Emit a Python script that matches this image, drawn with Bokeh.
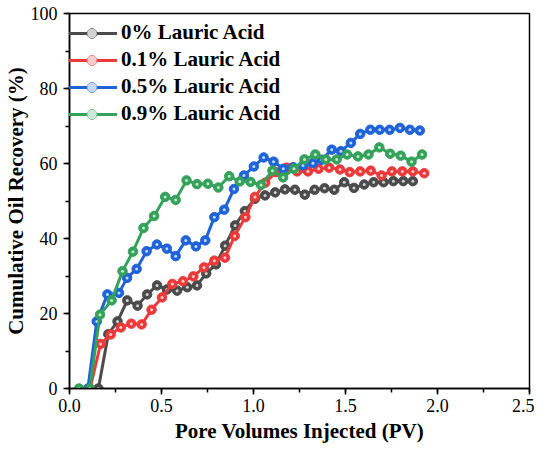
from bokeh.plotting import figure
from bokeh.models import Range1d, SingleIntervalTicker, PrintfTickFormatter, Legend, LegendItem
from bokeh.embed import file_html
from bokeh.resources import INLINE

labels = ["0% Lauric Acid", "0.1% Lauric Acid", "0.5% Lauric Acid", "0.9% Lauric Acid"]
colors = ["#4b4b4b", "#ec3a3b", "#1f63d8", "#34a25a"]

x_0 = [0.157, 0.211, 0.261, 0.314, 0.37, 0.422, 0.476, 0.529, 0.585, 0.64, 0.693, 0.743, 0.796,
       0.846, 0.9, 0.953, 1.008, 1.063, 1.118, 1.171, 1.225, 1.279, 1.332, 1.386, 1.439, 1.493,
       1.546, 1.602, 1.653, 1.707, 1.76, 1.814, 1.866]
y_0 = [0, 14.5, 17.9, 23.5, 22.1, 25.1, 27.5, 26.4, 26.1, 27.0, 27.5, 30.7, 33.1, 38.1, 43.5,
       47.3, 50.6, 51.5, 52.3, 53.1, 53.0, 51.7, 53.0, 53.4, 53.0, 55.0, 53.5, 54.4, 55.0, 55.0,
       55.3, 55.3, 55.3]

x_01 = [0.112, 0.169, 0.224, 0.279, 0.336, 0.392, 0.446, 0.503, 0.559, 0.617, 0.673, 0.731,
        0.787, 0.845, 0.898, 0.956, 1.008, 1.064, 1.122, 1.18, 1.237, 1.296, 1.354, 1.411, 1.47,
        1.523, 1.58, 1.637, 1.696, 1.752, 1.809, 1.866, 1.928]
y_01 = [0, 11.9, 14.4, 16.3, 17.3, 17.1, 21.0, 24.3, 27.9, 28.6, 29.9, 32.3, 34.1, 34.9, 40.7,
        45.7, 51.1, 54.9, 57.7, 58.9, 57.9, 57.9, 58.6, 58.9, 58.4, 57.7, 57.9, 58.1, 56.8, 57.9,
        57.9, 57.9, 57.4]

x_05 = [0.1, 0.148, 0.206, 0.269, 0.313, 0.365, 0.419, 0.475, 0.529, 0.577, 0.632, 0.687, 0.738,
        0.787, 0.841, 0.894, 0.948, 1.002, 1.055, 1.109, 1.162, 1.216, 1.269, 1.323, 1.371, 1.425,
        1.475, 1.529, 1.58, 1.635, 1.686, 1.74, 1.796, 1.85, 1.904]
y_05 = [0, 17.9, 25.1, 25.5, 29.5, 31.9, 36.6, 38.4, 37.3, 35.3, 39.5, 37.9, 39.5, 45.7, 47.7,
        53.2, 56.8, 59.2, 61.6, 60.5, 58.6, 59.0, 59.5, 60.1, 61.0, 63.7, 63.3, 65.5, 67.9, 69.0,
        69.0, 69.0, 69.5, 69.0, 68.8]

x_09 = [0.052, 0.11, 0.166, 0.229, 0.288, 0.345, 0.402, 0.46, 0.52, 0.577, 0.636, 0.693, 0.752,
        0.809, 0.868, 0.925, 0.984, 1.041, 1.103, 1.161, 1.22, 1.277, 1.336, 1.393, 1.452, 1.509,
        1.568, 1.625, 1.684, 1.743, 1.8, 1.859, 1.916]
y_09 = [0, 0, 19.7, 23.5, 31.3, 36.5, 42.8, 46.0, 51.1, 50.3, 55.5, 54.5, 54.6, 53.6, 56.6, 55.2,
        55.1, 54.3, 58.1, 56.3, 58.6, 61.1, 62.4, 61.1, 61.1, 62.4, 61.9, 62.4, 64.3, 62.6, 62.1,
        60.5, 62.4]

series = [(x_0, y_0), (x_01, y_01), (x_05, y_05), (x_09, y_09)]

FONT = "Times New Roman, Liberation Serif, serif"

p = figure(width=534, height=445, output_backend="svg", toolbar_location=None,
           x_range=Range1d(0, 2.5), y_range=Range1d(0, 100),
           min_border_left=62, min_border_right=5, min_border_top=13, min_border_bottom=57,
           background_fill_color="white", border_fill_color="white")
p.grid.visible = False
p.outline_line_color = "black"
p.outline_line_width = 1.5

items = []
for (xs, ys), c, lab in zip(series, colors, labels):
    r1 = p.line(xs, ys, line_color=c, line_width=3)
    r2 = p.scatter(xs, ys, size=9.5, fill_color=c, line_color=c, line_width=1)
    r3 = p.scatter(xs, ys, size=3, fill_color="white", fill_alpha=0.75, line_color=None)
    items.append(LegendItem(label=lab, renderers=[r1, r2, r3]))

legend = Legend(items=items, location=(-3, 262), margin=0, padding=5,
                glyph_width=51, glyph_height=24, label_height=24, spacing=2,
                label_standoff=4, border_line_color=None, background_fill_alpha=0,
                label_text_font=FONT, label_text_font_style="bold",
                label_text_font_size="21px", label_text_color="black")
p.add_layout(legend)

xa = p.xaxis[0]
xa.ticker = SingleIntervalTicker(interval=0.5, num_minor_ticks=2)
xa.formatter = PrintfTickFormatter(format="%.1f")
ya = p.yaxis[0]
ya.ticker = SingleIntervalTicker(interval=20, num_minor_ticks=2)

for ax in (xa, ya):
    ax.axis_line_color = "black"
    ax.axis_line_width = 1.5
    ax.major_tick_line_color = "black"
    ax.minor_tick_line_color = "black"
    ax.major_tick_line_width = 1.5
    ax.minor_tick_line_width = 1.5
    ax.major_tick_in = 0
    ax.major_tick_out = 6
    ax.minor_tick_in = 0
    ax.minor_tick_out = 4
    ax.major_label_text_font = FONT
    ax.major_label_text_font_size = "18px"
    ax.major_label_text_color = "black"
    ax.axis_label_text_font = FONT
    ax.axis_label_text_font_style = "bold"
    ax.axis_label_text_font_size = "21px"
    ax.axis_label_text_color = "black"

xa.axis_label = "Pore Volumes Injected (PV)"
ya.axis_label = "Cumulative Oil Recovery (%)"
xa.major_label_standoff = 4
xa.axis_label_standoff = 4
ya.major_label_standoff = 6
ya.axis_label_standoff = 0

open("out.html", "w").write(file_html(p, INLINE))
